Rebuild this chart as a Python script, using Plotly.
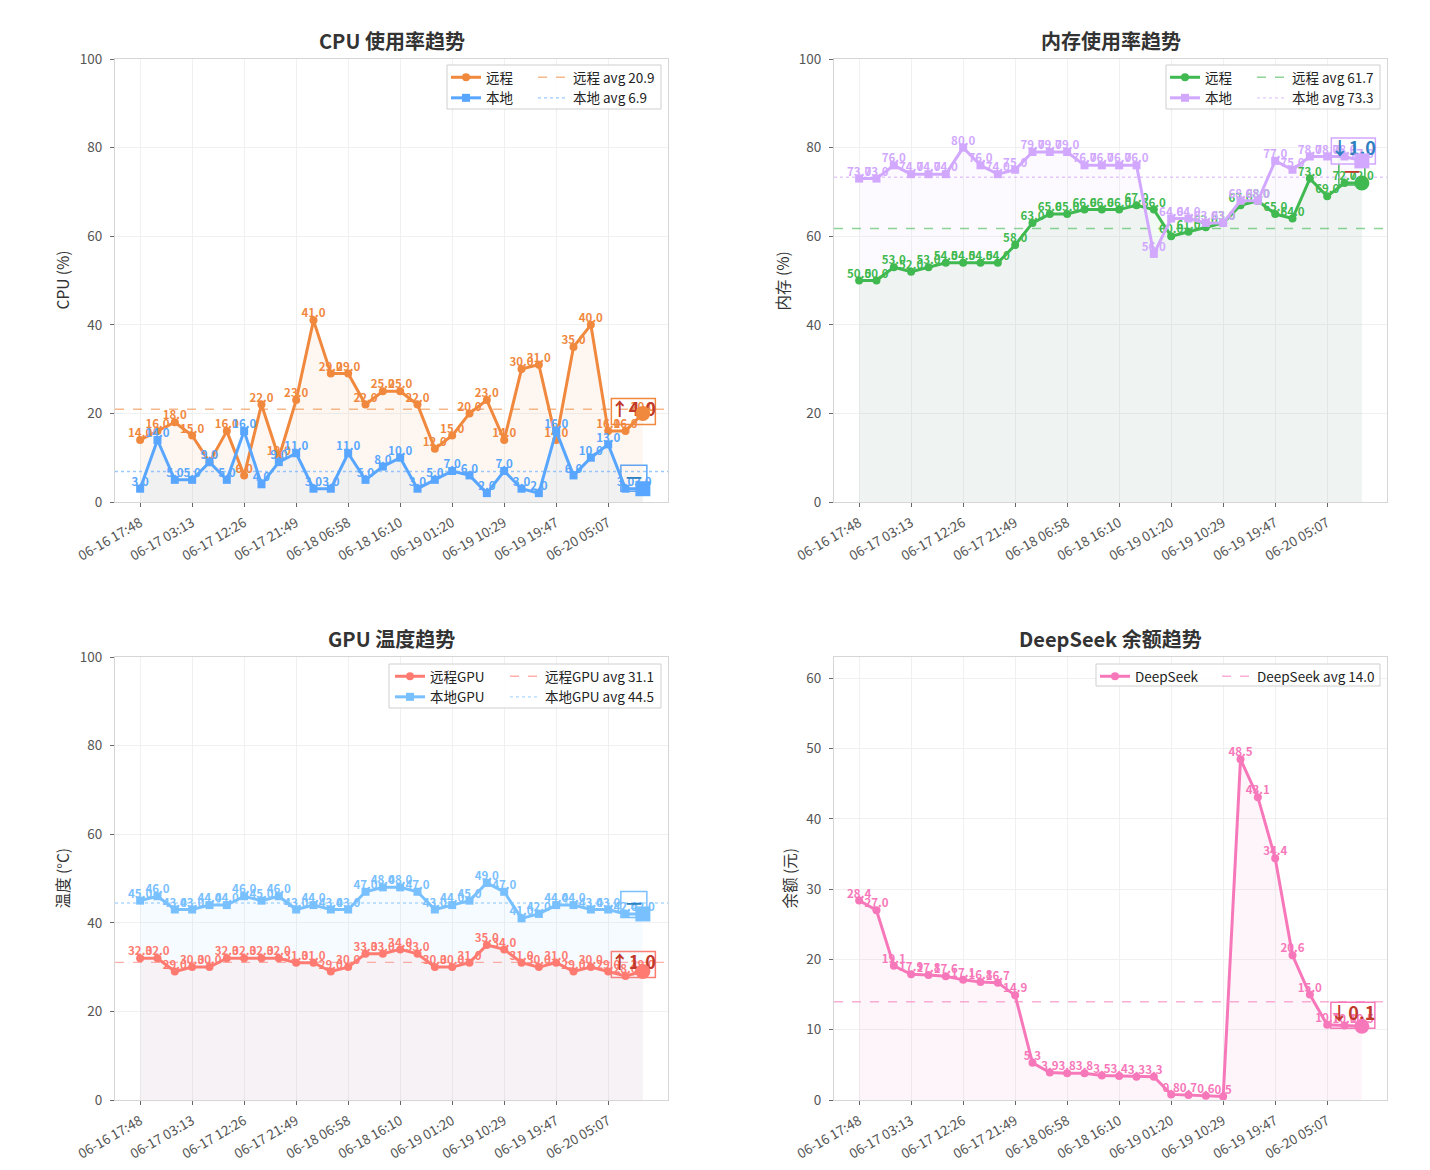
import plotly.graph_objects as go

W, H = 1430, 1170

# ---------------- data ----------------
tick_labels = ["06-16 17:48", "06-17 03:13", "06-17 12:26", "06-17 21:49", "06-18 06:58",
               "06-18 16:10", "06-19 01:20", "06-19 10:29", "06-19 19:47", "06-20 05:07"]
n_points = 30
x_idx = list(range(n_points))
tick_idx = x_idx[::3]

cpu_remote = [14, 16, 18, 15, 9, 16, 6, 22, 10, 23, 41, 29, 29, 22, 25, 25, 22, 12, 15, 20,
              23, 14, 30, 31, 14, 35, 40, 16, 16, 20]
cpu_local = [3, 14, 5, 5, 9, 5, 16, 4, 9, 11, 3, 3, 11, 5, 8, 10, 3, 5, 7, 6,
             2, 7, 3, 2, 16, 6, 10, 13, 3, 3]
mem_remote = [50, 50, 53, 52, 53, 54, 54, 54, 54, 58, 63, 65, 65, 66, 66, 66, 67, 66, 60, 61,
              62, 63, 67, 68, 65, 64, 73, 69, 72, 72]
mem_local = [73, 73, 76, 74, 74, 74, 80, 76, 74, 75, 79, 79, 79, 76, 76, 76, 76, 56, 64, 64,
             63, 63, 68, 68, 77, 75, 78, 78, 78, 77]
gpu_remote = [32, 32, 29, 30, 30, 32, 32, 32, 32, 31, 31, 29, 30, 33, 33, 34, 33, 30, 30, 31,
              35, 34, 31, 30, 31, 29, 30, 29, 28, 29]
gpu_local = [45, 46, 43, 43, 44, 44, 46, 45, 46, 43, 44, 43, 43, 47, 48, 48, 47, 43, 44, 45,
             49, 47, 41, 42, 44, 44, 43, 43, 42, 42]
deepseek = [28.4, 27.0, 19.1, 17.9, 17.8, 17.6, 17.1, 16.8, 16.7, 14.9, 5.3, 3.9, 3.8, 3.8, 3.5,
            3.4, 3.3, 3.3, 0.8, 0.7, 0.6, 0.5, 48.5, 43.1, 34.4, 20.6, 15.0, 10.7, 10.6, 10.5]

# ---------------- styles ----------------
ORANGE, BLUE = "#f0883e", "#58a6ff"
GREEN, PURPLE = "#3fb950", "#d2a8ff"
RED, LBLUE = "#ff7b72", "#79c0ff"
PINK = "#f778ba"
UP_RED, DOWN_BLUE = "#c0392b", "#2e80c0"
FONT = "Noto Sans CJK SC, Noto Sans, DejaVu Sans, sans-serif"


def rgba(h, a):
    h = h.lstrip('#')
    return f"rgba({int(h[0:2],16)},{int(h[2:4],16)},{int(h[4:6],16)},{a})"


panels = [
    dict(title="CPU 使用率趋势", ytitle="CPU (%)", ymax=100, dtick=20,
         box=(115, 59, 668, 502), ytitle_x=61,
         series=[("远程", cpu_remote, ORANGE, "circle", "dash", UP_RED, (-9.5, 2)),
                 ("本地", cpu_local, BLUE, "square", "dot", DOWN_BLUE, (-9, 10.5))],
         legbox=(447, 65, 661, 109), legA=446, legB=533, legy=62),
    dict(title="内存使用率趋势", ytitle="内存 (%)", ymax=100, dtick=20,
         box=(834, 59, 1387, 502), ytitle_x=781,
         series=[("远程", mem_remote, GREEN, "circle", "dash", UP_RED, (-10, 11)),
                 ("本地", mem_local, PURPLE, "square", "dot", DOWN_BLUE, (-8.5, 10))],
         legbox=(1166, 65, 1380, 109), legA=1165, legB=1252, legy=62),
    dict(title="GPU 温度趋势", ytitle="温度 (°C)", ymax=100, dtick=20,
         box=(115, 657, 668, 1100), ytitle_x=61,
         series=[("远程GPU", gpu_remote, RED, "circle", "dash", UP_RED, (-9.5, 7)),
                 ("本地GPU", gpu_local, LBLUE, "square", "dot", DOWN_BLUE, (-9, 9.5))],
         legbox=(389, 664, 661, 708), legA=390, legB=505, legy=661),
    dict(title="DeepSeek 余额趋势", ytitle="余额 (元)", ymax=max(deepseek) * 1.3, dtick=10,
         box=(834, 657, 1387, 1100), ytitle_x=788,
         series=[("DeepSeek", deepseek, PINK, "circle", "dash", UP_RED, (-9, 11))],
         legbox=(1096, 664, 1380, 686), legA=1095, legB=1217, legy=661),
]

X_RANGE = [-0.05 * (n_points - 1), (n_points - 1) * 1.05]

fig = go.Figure()
layout = dict(width=W, height=H, margin=dict(l=0, r=0, t=0, b=0, autoexpand=False),
              paper_bgcolor="white", plot_bgcolor="white", showlegend=True,
              font=dict(family=FONT, color="#333"), hovermode=False)
shapes, annotations = [], []

leg_count = 0
for k, p in enumerate(panels):
    s = "" if k == 0 else str(k + 1)
    xa, ya = "x" + s, "y" + s
    x0, y0, x1, y1 = p["box"]
    pw, ph = x1 - x0, y1 - y0
    yr = [0, p["ymax"]]
    pxx = pw / (X_RANGE[1] - X_RANGE[0])
    pxy = ph / (yr[1] - yr[0])
    axis_common = dict(showgrid=True, gridcolor="#f0f0f0", gridwidth=1, showline=True,
                       mirror=True, linecolor="#d6d6d6", linewidth=1, ticks="outside",
                       ticklen=4, tickcolor="#666", tickfont=dict(size=13.5, color="#555"),
                       zeroline=False, fixedrange=True, automargin=False)
    layout["xaxis" + s] = dict(domain=[x0 / W, x1 / W], range=X_RANGE, anchor=ya,
                               tickmode="array", tickvals=tick_idx, ticktext=tick_labels,
                               tickangle=-30, ticklabelstandoff=3, **axis_common)
    layout["yaxis" + s] = dict(domain=[1 - y1 / H, 1 - y0 / H], range=yr, anchor=xa,
                               dtick=p["dtick"], tick0=0, ticklabelstandoff=5, **axis_common)

    legA = "legend" if leg_count == 0 else f"legend{leg_count + 1}"
    legB = f"legend{leg_count + 2}"
    leg_count += 2
    for lg, lx in ((legA, p["legA"]), (legB, p["legB"])):
        layout[lg] = dict(x=lx / W, y=1 - p["legy"] / H, xanchor="left", yanchor="top",
                          bgcolor="rgba(0,0,0,0)", borderwidth=0,
                          font=dict(size=13.5, color="#222", family=FONT),
                          orientation="v", tracegroupgap=0)
    bx0, by0, bx1, by1 = p["legbox"]
    shapes.append(dict(type="rect", xref="paper", yref="paper", x0=bx0 / W, x1=bx1 / W,
                       y0=1 - by1 / H, y1=1 - by0 / H, line=dict(color="#cfcfcf", width=1),
                       fillcolor="rgba(255,255,255,0.85)", layer="above"))

    # fills
    for name, vals, col, sym, dash, ccol, off in p["series"]:
        fig.add_trace(go.Scatter(x=x_idx, y=vals, xaxis=xa, yaxis=ya, mode="lines",
                                 line=dict(width=0, color=col), fill="tozeroy",
                                 fillcolor=rgba(col, 0.07), showlegend=False, hoverinfo="skip"))
    # average lines
    for name, vals, col, sym, dash, ccol, off in p["series"]:
        avg = sum(vals) / len(vals)
        fig.add_trace(go.Scatter(x=X_RANGE, y=[avg, avg], xaxis=xa, yaxis=ya, mode="lines",
                                 line=dict(color=rgba(col, 0.6), width=1.4, dash=dash),
                                 name=f"{name} avg {avg:.1f}", legend=legB, hoverinfo="skip"))
    # main lines + labels
    for name, vals, col, sym, dash, ccol, off in p["series"]:
        fig.add_trace(go.Scatter(x=x_idx, y=vals, xaxis=xa, yaxis=ya, mode="lines+markers",
                                 line=dict(color=col, width=3),
                                 marker=dict(symbol=sym, size=8, color=col),
                                 name=name, legend=legA, hoverinfo="skip"))
        fig.add_trace(go.Scatter(x=x_idx, y=vals, xaxis=xa, yaxis=ya, mode="text",
                                 text=[f"{v:.1f}" for v in vals], textposition="top center",
                                 textfont=dict(size=11.5, color=col, weight="bold", family=FONT),
                                 cliponaxis=False, showlegend=False, hoverinfo="skip"))
    # last-point change boxes
    for name, vals, col, sym, dash, ccol, off in p["series"]:
        diff = vals[-1] - vals[-2]
        if abs(diff) < 0.05:
            txt = "—"
        elif diff > 0:
            txt = f"↑{abs(diff):.1f}"
        else:
            txt = f"↓{abs(diff):.1f}"
        bw = 26 if txt == "—" else 44
        bh = 26
        dx, dy = off
        shapes.append(dict(type="rect", xref=xa, yref=ya, xsizemode="pixel", ysizemode="pixel",
                           xanchor=n_points - 1, yanchor=vals[-1],
                           x0=dx - bw / 2, x1=dx + bw / 2, y0=dy - bh / 2, y1=dy + bh / 2,
                           line=dict(color=col, width=1.5), fillcolor="rgba(255,255,255,0.9)",
                           layer="between"))
        fig.add_trace(go.Scatter(x=[n_points - 1 + dx / pxx], y=[vals[-1] + dy / pxy],
                                 xaxis=xa, yaxis=ya, mode="text", text=[txt],
                                 textposition="middle center",
                                 textfont=dict(size=18, color=ccol, weight="bold", family=FONT),
                                 cliponaxis=False, showlegend=False, hoverinfo="skip"))
        fig.add_trace(go.Scatter(x=[n_points - 1], y=[vals[-1]], xaxis=xa, yaxis=ya,
                                 mode="markers", marker=dict(symbol=sym, size=15, color=col),
                                 cliponaxis=False, showlegend=False, hoverinfo="skip"))

    # titles
    annotations.append(dict(xref="paper", yref="paper", x=(x0 + x1) / 2 / W, y=1 - (y0 - 18) / H,
                            text=f"<b>{p['title']}</b>", showarrow=False,
                            font=dict(size=20, color="#333", family=FONT),
                            xanchor="center", yanchor="middle"))
    annotations.append(dict(xref="paper", yref="paper", x=p["ytitle_x"] / W,
                            y=1 - (y0 + y1) / 2 / H, text=p["ytitle"], showarrow=False,
                            textangle=-90, font=dict(size=15.5, color="#333", family=FONT),
                            xanchor="center", yanchor="middle"))

layout["shapes"] = shapes
layout["annotations"] = annotations
fig.update_layout(**layout)
fig.write_html("out.html")
